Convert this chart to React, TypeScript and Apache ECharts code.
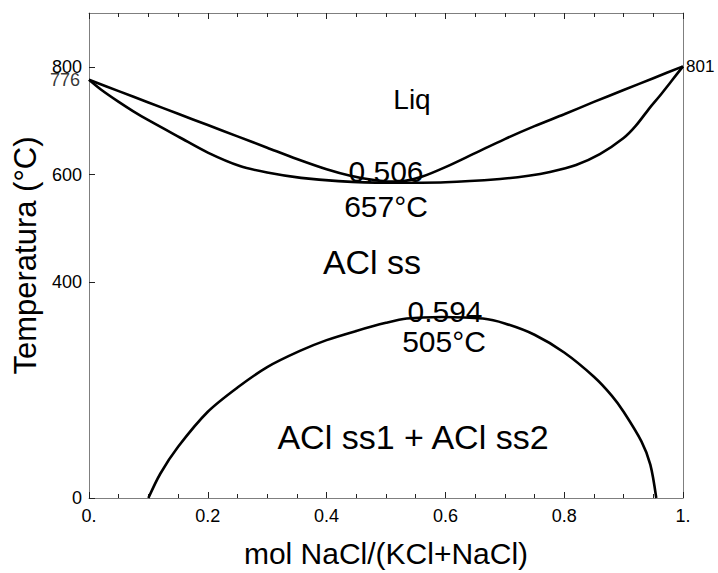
import React, { useEffect, useRef } from "react";
import * as echarts from "echarts";

// Liquidus (upper boundary of the two-phase loop)
const liquidusX = [0, 0.05, 0.1, 0.15, 0.2, 0.25, 0.3, 0.35, 0.4, 0.44, 0.48, 0.506, 0.53, 0.56, 0.6, 0.65, 0.7, 0.75, 0.8, 0.85, 0.9, 0.95, 1.0];
const liquidusT = [776, 755, 734, 713, 692, 671, 650, 629, 610, 598, 590, 587, 588, 596, 614, 640, 666, 690, 712, 735, 757, 779, 801];
// Solidus (lower boundary of the two-phase loop)
const solidusX = [0, 0.02, 0.05, 0.074, 0.1, 0.153, 0.2, 0.254, 0.3, 0.357, 0.42, 0.5, 0.6, 0.692, 0.74, 0.776, 0.82, 0.86, 0.9, 0.92, 0.944, 0.96, 0.98, 1.0];
const solidusT = [776, 758, 735, 718, 701, 669, 641, 616, 604, 594, 588, 585, 586, 592, 598, 605, 618, 638, 668, 690, 724, 745, 773, 801];
// Miscibility gap (solvus)
const gapX = [0.1, 0.12, 0.15, 0.2, 0.25, 0.3, 0.355, 0.4, 0.45, 0.5, 0.535, 0.594, 0.663, 0.7, 0.75, 0.8, 0.85, 0.88, 0.9, 0.93, 0.945, 0.955];
const gapT = [0, 45, 95, 160, 205, 243, 273, 293, 310, 325, 333, 336, 333, 324, 303, 270, 225, 190, 160, 105, 62, 0];

const xTickValues = [0, 0.2, 0.4, 0.6, 0.8, 1];
const xTickLabels = ["0.", "0.2", "0.4", "0.6", "0.8", "1."];
const yTickValues = [0, 400, 600, 800];
const yRightLabelValues = [801];
const leftEndLabel = { x: 0, t: 776, text: "776" };

const xTitle = "mol NaCl/(KCl+NaCl)";
const yTitle = "Temperatura (°C)";
const annotations = [
  { text: "Liq", x: 412, y: 99, size: 28 },
  { text: "0.506", x: 386, y: 171, size: 30 },
  { text: "657°C", x: 386, y: 206, size: 30 },
  { text: "ACl ss", x: 372, y: 262, size: 34 },
  { text: "0.594", x: 445, y: 311, size: 30 },
  { text: "505°C", x: 444, y: 341, size: 30 },
  { text: "ACl ss1 + ACl ss2", x: 413, y: 437, size: 34 },
];

const FONT = "'Liberation Sans', Arial, Helvetica, sans-serif";
const AXIS_GRAY = "#7f7f7f";

export default function App() {
  const ref = useRef<HTMLDivElement>(null);
  useEffect(() => {
    if (!ref.current) return;
    const chart = echarts.init(ref.current, undefined, { renderer: "svg" });
    const pair = (xs: number[], ys: number[]) => xs.map((x, i) => [x, ys[i]]);
    const lineStyle = { color: "#000", width: 2.6 };
    const curve = (xs: number[], ys: number[]) => ({
      type: "line",
      data: pair(xs, ys),
      smooth: 0.3,
      showSymbol: false,
      lineStyle,
      clip: false,
      silent: true,
    });
    const axisLine = { show: true, onZero: false, lineStyle: { color: AXIS_GRAY, width: 1 } };
    const baseX = {
      type: "value" as const,
      min: 0,
      max: 1,
      interval: 0.2,
      splitLine: { show: false },
      axisLine,
      axisTick: { show: true, inside: true, length: 6, lineStyle: { color: "#222" } },
      minorTick: { show: true, splitNumber: 4, length: 4, lineStyle: { color: "#222" } },
    };
    chart.setOption({
      animation: false,
      backgroundColor: "#fff",
      grid: { left: 89, top: 13, width: 594, height: 495, containLabel: false },
      xAxis: [
        {
          ...baseX,
          position: "bottom",
          axisLabel: {
            color: "#000",
            fontSize: 18,
            fontFamily: FONT,
            margin: 9,
            formatter: (v: number) => {
              const i = xTickValues.findIndex((t) => Math.abs(t - v) < 1e-6);
              return i >= 0 ? xTickLabels[i] : "";
            },
          },
          name: xTitle,
          nameLocation: "middle",
          nameGap: 40,
          nameTextStyle: { color: "#000", fontSize: 30, fontFamily: FONT },
        },
        {
          ...baseX,
          position: "top",
          axisLabel: { show: false },
        },
      ],
      yAxis: [
        {
          type: "value",
          min: 0,
          max: 900,
          position: "left",
          splitLine: { show: false },
          axisLine,
          axisTick: { show: true, inside: true, length: 6, customValues: yTickValues, lineStyle: { color: "#222" } },
          axisLabel: {
            color: "#000",
            fontSize: 18,
            fontFamily: FONT,
            margin: 7,
            customValues: yTickValues,
            hideOverlap: false,
          },
          name: yTitle,
          nameLocation: "middle",
          nameRotate: 90,
          nameGap: 40,
          nameTextStyle: { color: "#000", fontSize: 31, fontFamily: FONT },
        },
        {
          type: "value",
          min: 0,
          max: 900,
          position: "right",
          splitLine: { show: false },
          axisLine,
          axisTick: { show: false },
          axisLabel: { color: "#000", fontSize: 17, fontFamily: FONT, margin: 3, customValues: yRightLabelValues },
        },
      ],
      graphic: annotations.map((a) => ({
        type: "text",
        x: a.x,
        y: a.y,
        silent: true,
        style: {
          text: a.text,
          fill: "#000",
          fontSize: a.size,
          fontFamily: FONT,
          align: "center",
          verticalAlign: "middle",
        },
      })),
      series: [
        curve(liquidusX, liquidusT),
        curve(solidusX, solidusT),
        curve(gapX, gapT),
        {
          type: "scatter",
          data: [[leftEndLabel.x, leftEndLabel.t]],
          symbolSize: 0,
          silent: true,
          clip: false,
          label: {
            show: true,
            position: "left",
            distance: 9,
            formatter: leftEndLabel.text,
            color: "#000",
            fontSize: 18,
            fontFamily: FONT,
          },
        },
      ],
    });
    return () => chart.dispose();
  }, []);
  return <div ref={ref} style={{ position: "absolute", left: 0, top: 0, width: 718, height: 573 }} />;
}
